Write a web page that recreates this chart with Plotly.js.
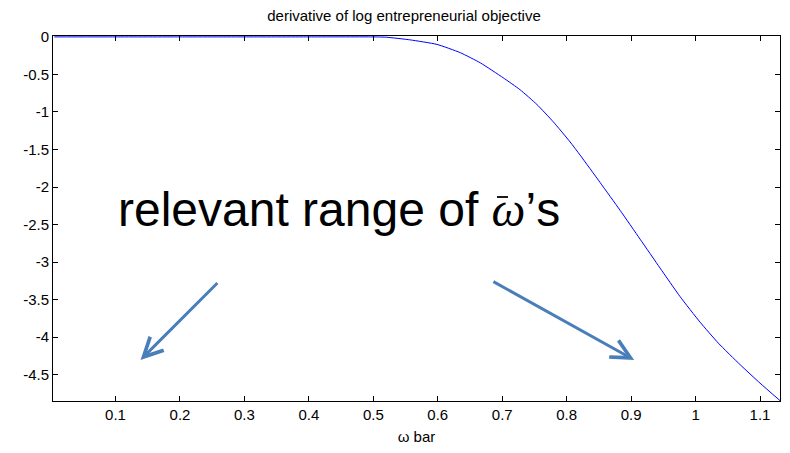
<!DOCTYPE html>
<html>
<head>
<meta charset="utf-8">
<script src="https://cdn.plot.ly/plotly-3.0.1.min.js"></script>
<style>html,body{margin:0;padding:0;background:#fff;}#chart{width:790px;height:453px;}</style>
</head>
<body>
<div id="chart"></div>
<script>
// omega bar values and derivative of log entrepreneurial objective
const omegaBar = [0.005, 0.1, 0.2, 0.3, 0.4, 0.4953, 0.52, 0.5574, 0.5988, 0.6349, 0.6659, 0.7016, 0.7279, 0.7538, 0.7791, 0.8054, 0.8209, 0.8519, 0.8829, 0.9140, 0.9450, 0.9760, 1.0070, 1.0354, 1.0690, 1.1000, 1.1310];
const derivative = [0, 0, 0, 0, 0, 0, -0.004, -0.04, -0.10, -0.21, -0.345, -0.545, -0.705, -0.90, -1.13, -1.40, -1.575, -1.94, -2.31, -2.695, -3.08, -3.46, -3.80, -4.08, -4.365, -4.612, -4.845];
const xTicks = [0.1, 0.2, 0.3, 0.4, 0.5, 0.6, 0.7, 0.8, 0.9, 1, 1.1];
const xTickLabels = ['0.1', '0.2', '0.3', '0.4', '0.5', '0.6', '0.7', '0.8', '0.9', '1', '1.1'];
const yTicks = [0, -0.5, -1, -1.5, -2, -2.5, -3, -3.5, -4, -4.5];
const yTickLabels = ['0', '-0.5', '-1', '-1.5', '-2', '-2.5', '-3', '-3.5', '-4', '-4.5'];

const arrowColor = '#4a7ebb';
const font = 'Liberation Sans, Arial, sans-serif';

const trace = {
  x: omegaBar, y: derivative, type: 'scatter', mode: 'lines',
  line: {color: '#0000ff', width: 1, shape: 'spline', smoothing: 0.5}, hoverinfo: 'none', showlegend: false
};

const axisCommon = {
  showgrid: false, zeroline: false, showline: true, linecolor: '#000', linewidth: 1,
  mirror: 'ticks', ticks: 'inside', ticklen: 5, tickcolor: '#000', tickwidth: 1,
  tickfont: {family: font, size: 15, color: '#000'}
};

// pixel helpers for the decorative macron over omega
const W = 790, H = 453, M = {l: 53, r: 10, t: 36, b: 52};
const px = v => (v - M.l) / (W - M.l - M.r);
const py = v => 1 - (v - M.t) / (H - M.t - M.b);

const layout = {
  width: W, height: H,
  margin: M,
  paper_bgcolor: '#fff', plot_bgcolor: '#fff',
  title: {text: 'derivative of log entrepreneurial objective', font: {family: font, size: 15, color: '#000'},
          x: 404/790, xanchor: 'center', y: 1 - 16/453, yanchor: 'middle'},
  xaxis: Object.assign({}, axisCommon, {
    range: [0.003, 1.131], tickvals: xTicks, ticktext: xTickLabels,
    title: {text: 'ω bar', font: {family: font, size: 15, color: '#000'}, standoff: 9}
  }),
  yaxis: Object.assign({}, axisCommon, {
    range: [-4.85, 0.012], tickvals: yTicks, ticktext: yTickLabels
  }),
  shapes: [
    {type: 'line', xref: 'paper', yref: 'paper', x0: px(497), x1: px(508), y0: py(197), y1: py(197),
     line: {color: '#000', width: 1.8}}
  ],
  annotations: [
    {xref: 'x', yref: 'y', x: 0.446, y: -2.3, xanchor: 'center', yanchor: 'middle', showarrow: false,
     text: 'relevant range of <i><span style="font-family:\'Liberation Serif\',serif">ω</span></i>’s',
     font: {family: font, size: 48, color: '#000'}},
    {xref: 'x', yref: 'y', axref: 'x', ayref: 'y', x: 0.1388, y: -4.303, ax: 0.2604, ay: -3.259,
     text: '', showarrow: true, arrowhead: 5, arrowsize: 1.25, arrowwidth: 3, arrowcolor: arrowColor, standoff: 0},
    {xref: 'x', yref: 'y', axref: 'x', ayref: 'y', x: 0.9047, y: -4.303, ax: 0.684, ay: -3.249,
     text: '', showarrow: true, arrowhead: 5, arrowsize: 1.25, arrowwidth: 3, arrowcolor: arrowColor, standoff: 0}
  ]
};

Plotly.newPlot('chart', [trace], layout, {displayModeBar: false, staticPlot: true});
</script>
</body>
</html>
